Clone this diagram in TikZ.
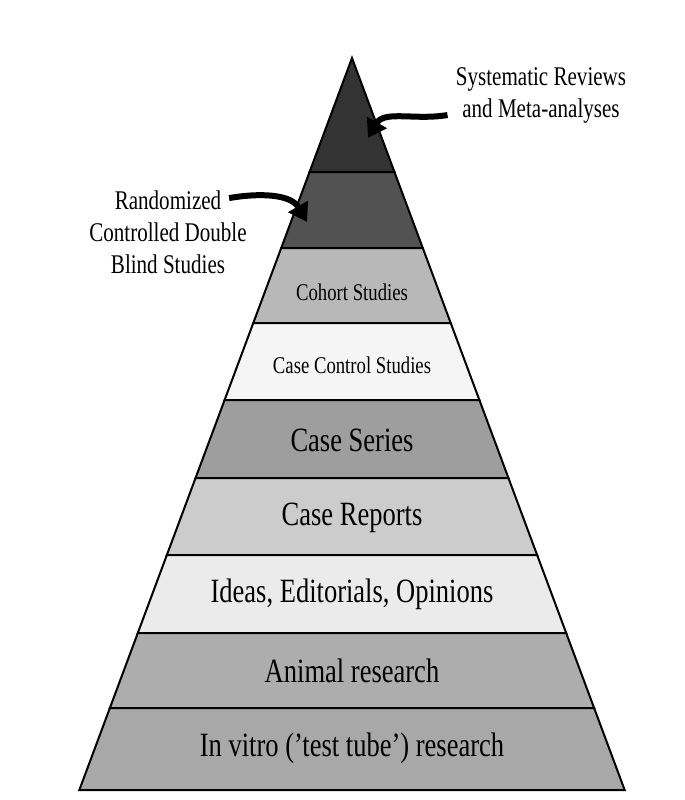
\documentclass[tikz,border=0pt]{standalone}
\usepackage{fontspec}
\setmainfont{Liberation Serif}[FakeStretch=0.78]
\usetikzlibrary{arrows.meta}
\tikzset{
  band/.style = {draw = black, line width = 1pt},
  lbl/.style = {font = \fontsize{#1}{#1}\selectfont, inner sep = 0pt},
  side/.style = {align = center, font = \fontsize{13.5}{16}\selectfont, inner sep = 0pt},
  fatarrow/.style = {line width = 3pt, -{Triangle[length = 9pt, width = 11pt]}}
}
\begin{document}
\begin{tikzpicture}[x = 0.5pt, y = -0.5pt]
    \useasboundingbox (0, 0) rectangle (685, 800);
    \pgfmathsetmacro{\ax}{352};
    \pgfmathsetmacro{\ay}{58};
    \pgfmathsetmacro{\sl}{0.3725};

    % bands, top to bottom: lower edge / fill
    \foreach \top/\bot/\shade in {58/172/20, 172/248/32, 248/323/72, 323/400/96, 400/478/62, 478/555/80, 555/633/92, 633/708/68, 708/790/66} {
        \fill [black!\the\numexpr100-\shade\relax, draw = black, line width = 1pt]
            ({\ax - (\top - \ay)*\sl}, \top) -- ({\ax + (\top - \ay)*\sl}, \top)
            -- ({\ax + (\bot - \ay)*\sl}, \bot) -- ({\ax - (\bot - \ay)*\sl}, \bot) -- cycle;
    }

    \node [lbl = 12] (cohort) at (352, 292) {Cohort Studies};
    \node [lbl = 12] (control) at (352, 365) {Case Control Studies};
    \node [lbl = 17] (series) at (352, 440) {Case Series};
    \node [lbl = 17] (reports) at (352, 518) {Case Reports};
    \node [lbl = 17] (ideas) at (352, 594) {Ideas, Editorials, Opinions};
    \node [lbl = 17] (animal) at (352, 671) {Animal research};
    \node [lbl = 17] (vitro) at (352, 748) {In vitro ('test tube') research};

    \node [side] (sysrev) at (541, 95) {Systematic Reviews\\and Meta-analyses};
    \node [side] (rct) at (168, 232) {Randomized\\Controlled Double\\Blind Studies};

    \coordinate (sysend) at (368, 138);
    \coordinate (rctend) at (307, 222);
    \draw [fatarrow] (sysrev.west) ++(-8, 20) to [out = 190, in = 60] (sysend);
    \draw [fatarrow] (rct.north east) ++(-18, 8) to [out = 10, in = 120] (rctend);
\end{tikzpicture}
\end{document}
